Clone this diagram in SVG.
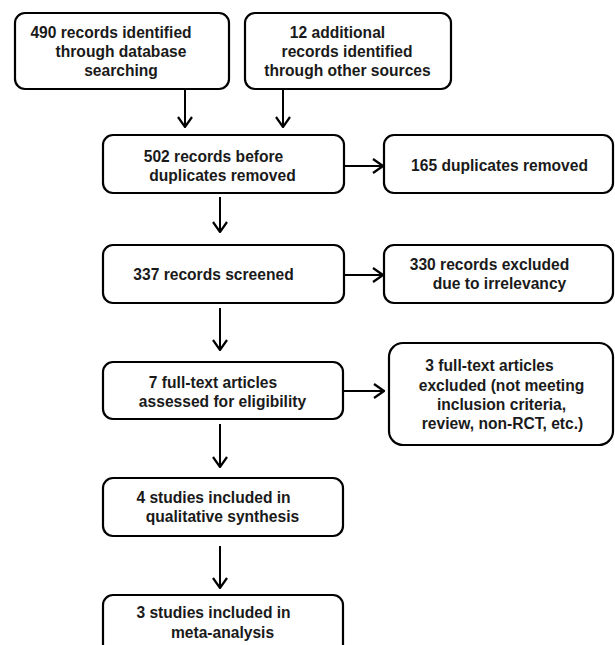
<svg xmlns="http://www.w3.org/2000/svg" width="615" height="645" viewBox="0 0 615 645">
<defs>
<style>
.box{fill:#fff;stroke:#000;stroke-width:2.2}
.t{font-family:"Liberation Sans",Arial,sans-serif;font-weight:bold;font-size:15.6px;fill:#1a1a1a;text-anchor:middle}
.c{stroke:#000;stroke-width:2;fill:none}
</style>
<marker id="ah" viewBox="0 0 12 16" refX="11" refY="8" markerWidth="12" markerHeight="16" markerUnits="userSpaceOnUse" orient="auto">
<path d="M1,1 L11,8 L1,15" fill="none" stroke="#000" stroke-width="2.2"/>
</marker>
</defs>
<rect width="615" height="645" fill="#fff"/>
<g id="connectors">
<line class="c" x1="185" y1="89" x2="185" y2="127" marker-end="url(#ah)"/>
<line class="c" x1="283" y1="89" x2="283" y2="127" marker-end="url(#ah)"/>
<line class="c" x1="220" y1="197" x2="220" y2="232" marker-end="url(#ah)"/>
<line class="c" x1="220" y1="308" x2="220" y2="350" marker-end="url(#ah)"/>
<line class="c" x1="220" y1="424" x2="220" y2="467" marker-end="url(#ah)"/>
<line class="c" x1="220" y1="546" x2="220" y2="588" marker-end="url(#ah)"/>
<line class="c" x1="344" y1="166" x2="383" y2="166" marker-end="url(#ah)"/>
<line class="c" x1="344" y1="275" x2="383" y2="275" marker-end="url(#ah)"/>
<line class="c" x1="343" y1="391" x2="384" y2="391" marker-end="url(#ah)"/>
</g>
<g id="n1">
<rect class="box" x="15" y="13" width="214" height="76" rx="10"/>
<text class="t" x="111" y="38">490 records identified</text>
<text class="t" x="121" y="57">through database</text>
<text class="t" x="121" y="76">searching</text>
</g>
<g id="n2">
<rect class="box" x="245" y="13" width="206" height="76" rx="10"/>
<text class="t" x="337.5" y="38">12 additional</text>
<text class="t" x="347" y="57">records identified</text>
<text class="t" x="347.5" y="76">through other sources</text>
</g>
<g id="n3">
<rect class="box" x="103" y="135" width="241" height="58" rx="10"/>
<text class="t" x="213.5" y="162">502 records before</text>
<text class="t" x="222.5" y="181">duplicates removed</text>
</g>
<g id="n4">
<rect class="box" x="384" y="135" width="229" height="58" rx="10"/>
<text class="t" x="499.5" y="171">165 duplicates removed</text>
</g>
<g id="n5">
<rect class="box" x="103" y="245" width="241" height="58" rx="10"/>
<text class="t" x="213.5" y="280">337 records screened</text>
</g>
<g id="n6">
<rect class="box" x="384" y="245" width="229" height="58" rx="10"/>
<text class="t" x="489.5" y="270">330 records excluded</text>
<text class="t" x="499.5" y="289">due to irrelevancy</text>
</g>
<g id="n7">
<rect class="box" x="103" y="362" width="240" height="57" rx="10"/>
<text class="t" x="213" y="388">7 full-text articles</text>
<text class="t" x="222.5" y="407">assessed for eligibility</text>
</g>
<g id="n8">
<rect class="box" x="389" y="343" width="224" height="102" rx="14"/>
<text class="t" x="489.5" y="371">3 full-text articles</text>
<text class="t" x="501.5" y="391">excluded (not meeting</text>
<text class="t" x="501.5" y="410">inclusion criteria,</text>
<text class="t" x="502.5" y="429">review, non-RCT, etc.)</text>
</g>
<g id="n9">
<rect class="box" x="103" y="478" width="240" height="58" rx="10"/>
<text class="t" x="213.5" y="503">4 studies included in</text>
<text class="t" x="222.5" y="522">qualitative synthesis</text>
</g>
<g id="n10">
<rect class="box" x="103" y="595" width="240" height="70" rx="10"/>
<text class="t" x="213.5" y="618">3 studies included in</text>
<text class="t" x="222.5" y="638">meta-analysis</text>
</g>
</svg>
